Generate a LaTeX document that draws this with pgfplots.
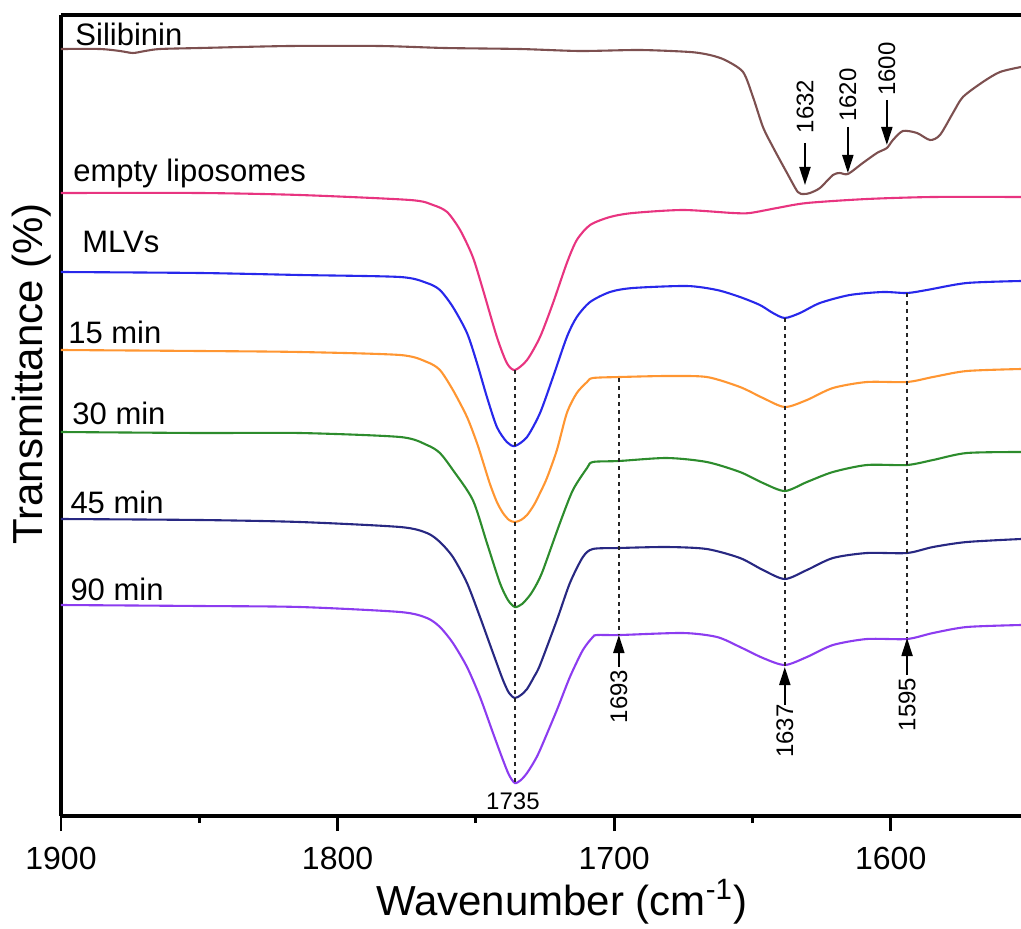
\documentclass[border=0pt]{standalone}
\usepackage{pgfplots}
\pgfplotsset{compat=1.18}
\usepackage{fontspec}
\setmainfont{Liberation Sans}
\usetikzlibrary{arrows.meta}
\definecolor{csil}{RGB}{125,80,80}
\definecolor{cemp}{RGB}{232,52,128}
\definecolor{cmlv}{RGB}{40,40,235}
\definecolor{cfif}{RGB}{255,150,50}
\definecolor{cthi}{RGB}{45,140,45}
\definecolor{cfor}{RGB}{40,40,130}
\definecolor{cnin}{RGB}{140,60,240}
\begin{document}
\begin{tikzpicture}
\useasboundingbox (-30.5pt,-56pt) rectangle (480pt,408pt);
\begin{axis}[
  scale only axis, width=480pt, height=400.5pt,
  at={(0,0)}, anchor=south west,
  x dir=reverse, xmin=1552.9, xmax=1900,
  ymin=0, ymax=801,
  axis x line*=bottom, axis y line*=left,
  xtick={1600,1700,1800,1900}, minor xtick={1650,1750,1850},
  ytick=\empty,
  tick align=outside,
  major tick length=7.5pt, minor tick length=3.5pt,
  every tick/.style={black, line width=1.4pt},
  axis line style={line width=1.6pt, black},
  /pgf/number format/assume math mode=true,
  /pgf/number format/1000 sep={},
  xticklabel style={font=\fontsize{16}{16}\selectfont, anchor=base, yshift=-19pt},
  xlabel={Wavenumber (cm\textsuperscript{-1})},
  xlabel style={font=\fontsize{21}{21}\selectfont, at={(axis description cs:0.5214,-0.1236)}, anchor=base},
  ylabel={Transmittance (\%)},
  ylabel style={font=\fontsize{21}{21}\selectfont, at={(axis description cs:-0.01875,0.552)}, anchor=base},
  clip=false,
  every axis plot/.append style={line width=1.05pt, no markers, smooth, tension=0.45},
]
% Silibinin
\addplot[csil] coordinates {
(1900,767) (1885.9,767) (1878.7,765) (1874.0,763) (1869.6,765) (1864.2,767) (1849.7,768)
(1817.2,770) (1784.7,770) (1761.2,768) (1734.1,767) (1712.4,765) (1690.7,766) (1672.6,764)
(1665.4,761) (1659.9,756) (1653.4,744) (1649.8,719) (1646.2,689) (1642.6,669) (1637.5,643)
(1633.6,624) (1631.4,622) (1629.2,623) (1625.6,628) (1620.9,641) (1618.4,643) (1615.5,642)
(1610.1,653) (1605.0,663) (1601.4,668) (1599.2,676) (1595.6,685) (1590.5,683) (1585.8,676)
(1582.2,681) (1577.5,703) (1573.9,719) (1566.7,734) (1560.5,744) (1552.9,749)};
% empty liposomes
\addplot[cemp] coordinates {
(1900,623) (1849.7,623) (1813.6,621) (1773.8,616) (1765.5,611) (1760.4,604) (1755.7,586)
(1751.1,559) (1747.4,526) (1742.4,479) (1738.8,453) (1735.9,446) (1731.5,456) (1726.8,479)
(1722.1,513) (1717.1,553) (1713.5,576) (1708.7,591) (1701.5,599) (1693.2,603) (1675.1,606)
(1657.1,603) (1650.9,603) (1641.1,608) (1630.3,613) (1608.6,617) (1584.7,619) (1552.9,619)};
% MLVs
\addplot[cmlv] coordinates {
(1900,544) (1849.7,543) (1813.6,541) (1777.4,539) (1767.7,533) (1763.0,526) (1758.3,509)
(1753.2,483) (1749.6,453) (1746.0,419) (1742.4,389) (1738.8,374) (1735.9,370) (1731.5,379)
(1726.8,403) (1722.1,439) (1717.1,479) (1713.5,499) (1708.7,514) (1701.5,524) (1693.2,528)
(1673.7,530) (1662.8,526) (1654.5,519) (1647.3,511) (1642.6,503) (1638.3,498) (1632.8,503)
(1625.6,513) (1614.8,521) (1602.8,524) (1594.1,523) (1586.9,526) (1572.5,533) (1552.9,535)};
% 15 min
\addplot[cfif] coordinates {
(1900,466) (1849.7,465) (1813.6,464) (1777.4,461) (1767.7,454) (1763.0,446) (1758.3,426)
(1753.2,399) (1749.6,373) (1747.4,354) (1744.9,332) (1742.4,314) (1740.2,303) (1738.0,296)
(1735.9,294) (1733.7,296) (1731.5,301) (1729.0,311) (1726.8,323) (1724.3,338) (1720.7,366)
(1717.1,403) (1713.5,423) (1709.8,434) (1707.7,438) (1697.9,439) (1680.9,440) (1666.5,439)
(1654.5,429) (1646.2,418) (1638.3,409) (1630.3,416) (1620.9,428) (1608.6,434) (1594.1,434)
(1584.7,439) (1572.5,445) (1552.9,447)};
% 30 min
\addplot[cthi] coordinates {
(1900,384) (1849.7,383) (1813.6,383) (1777.4,379) (1767.7,371) (1763.0,363) (1758.3,346)
(1751.1,316) (1746.0,273) (1741.3,233) (1738.4,216) (1735.9,209) (1733.3,212) (1730.4,221)
(1728.0,232) (1725.7,246) (1719.6,293) (1714.9,326) (1709.8,348) (1707.7,354) (1698.3,355)
(1680.9,358) (1666.5,354) (1654.5,344) (1646.2,333) (1638.3,325) (1630.3,334) (1620.9,344)
(1608.6,351) (1594.1,351) (1584.7,356) (1572.5,363) (1552.9,364)};
% 45 min
\addplot[cfor] coordinates {
(1900,297) (1849.7,296) (1813.6,294) (1777.4,289) (1767.7,283) (1763.0,274) (1758.3,259)
(1753.2,233) (1748.5,199) (1743.8,163) (1740.2,136) (1738.0,123) (1735.9,118) (1733.7,121)
(1731.5,127) (1729.0,139) (1726.8,151) (1720.7,196) (1716.0,233) (1711.3,259) (1707.7,267)
(1698.3,268) (1680.9,269) (1666.5,267) (1654.5,258) (1646.2,246) (1638.3,237) (1630.3,246)
(1620.9,258) (1608.6,263) (1594.1,263) (1584.7,269) (1572.5,274) (1552.9,277)};
% 90 min
\addplot[cnin] coordinates {
(1900,211) (1849.7,210) (1813.6,209) (1777.4,204) (1767.7,198) (1763.0,189) (1758.3,173)
(1753.2,149) (1748.5,119) (1743.8,83) (1740.2,56) (1738.0,41) (1735.9,33) (1733.7,36)
(1731.5,43) (1729.0,54) (1726.8,66) (1720.7,106) (1716.0,139) (1711.3,166) (1707.7,179)
(1706.2,181) (1697.9,181) (1675.1,183) (1662.8,179) (1654.5,169) (1646.2,158) (1638.3,151)
(1630.3,159) (1620.9,171) (1608.6,177) (1594.1,177) (1584.7,183) (1572.5,189) (1552.9,191)};

% top frame line
\draw[line width=1.6pt, black] (rel axis cs:0,1) -- (rel axis cs:1,1);

% dashed guide lines
\begin{scope}[black!85, line width=0.9pt, dash pattern=on 2pt off 2pt]
\draw (axis cs:1735.9,446) -- (axis cs:1735.9,33);
\draw (axis cs:1698.3,438) -- (axis cs:1698.3,181);
\draw (axis cs:1638.3,498) -- (axis cs:1638.3,149);
\draw (axis cs:1594.1,523) -- (axis cs:1594.1,178);
\end{scope}

% arrows
\begin{scope}[black, line width=1pt, -{Triangle[length=9pt,width=5.5pt]}]
\draw (axis cs:1631.0,673) -- (axis cs:1631.0,631);
\draw (axis cs:1615.5,689) -- (axis cs:1615.5,643);
\draw (axis cs:1601.4,716) -- (axis cs:1601.4,671);
\draw (axis cs:1698.3,149) -- (axis cs:1698.3,181);
\draw (axis cs:1638.3,111) -- (axis cs:1638.3,149);
\draw (axis cs:1594.1,141) -- (axis cs:1594.1,178);
\end{scope}

% peak labels
\begin{scope}[font=\fontsize{12}{12}\selectfont, inner sep=0pt]
\node[rotate=90] at (axis cs:1631.0,709.5) {1632};
\node[rotate=90] at (axis cs:1615.5,721) {1620};
\node[rotate=90] at (axis cs:1601.4,747) {1600};
\node[rotate=90] at (axis cs:1698.3,119.5) {1693};
\node[rotate=90] at (axis cs:1638.3,85) {1637};
\node[rotate=90] at (axis cs:1594.1,111.5) {1595};
\node[anchor=base] at (axis cs:1736.6,7) {1735};
\end{scope}

% series labels
\begin{scope}[font=\fontsize{15.5}{15.5}\selectfont, inner sep=0pt]
\node[anchor=base west] at (axis cs:1894.9,770) {Silibinin};
\node[anchor=base west] at (axis cs:1895.7,634) {empty liposomes};
\node[anchor=base west] at (axis cs:1892.4,564) {MLVs};
\node[anchor=base west] at (axis cs:1897.5,473) {15 min};
\node[anchor=base west] at (axis cs:1896.0,392) {30 min};
\node[anchor=base west] at (axis cs:1896.7,303) {45 min};
\node[anchor=base west] at (axis cs:1896.7,216) {90 min};
\end{scope}
\end{axis}
\end{tikzpicture}
\end{document}
